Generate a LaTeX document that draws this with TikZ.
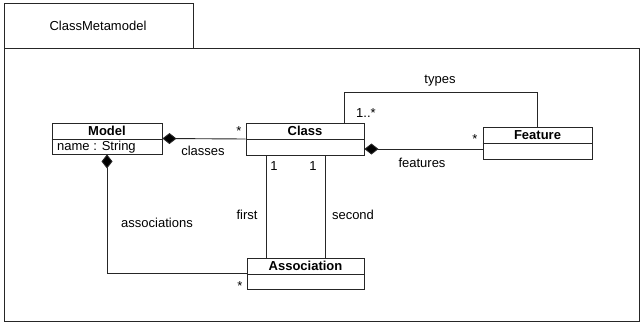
\documentclass[tikz,border=0pt]{standalone}
\usepackage{fontspec}
\setmainfont{Liberation Sans}
\usetikzlibrary{arrows.meta}
\begin{document}
\begin{tikzpicture}[x=1pt,y=-1pt,
  every node/.style={font=\fontsize{13}{15}\selectfont, inner sep=0pt},
  ln/.style={draw=black!85, line width=0.9pt},
  umlbox/.style={ln, rectangle, fill=white},
  comp/.style={ln, {Diamond[length=14pt,width=11pt,fill=black]}-},
  lbl/.style={text=black}
]
\useasboundingbox (0,0) rectangle (643,327);
% frame
\node[umlbox, anchor=north west, minimum width=189pt, minimum height=45pt] (tab) at (4,3) {};
\node (title) at (98,26) {ClassMetamodel};
\node[umlbox, anchor=north west, minimum width=635pt, minimum height=273pt] (frame) at (4,48) {};

% classes
\node[umlbox, minimum width=110pt, minimum height=31pt] (model) at (107,138.5) {};
\draw[ln] (model.west |- 0,139) -- (model.east |- 0,139);
\node[font=\fontsize{13}{15}\selectfont\bfseries] (modelname) at (107,131) {Model};
\node[anchor=west] (modelattr) at (57,147) {name : String};

\node[umlbox, minimum width=118pt, minimum height=32pt] (class) at (305,139) {};
\draw[ln] (class.west |- 0,139) -- (class.east |- 0,139);
\node[font=\fontsize{13}{15}\selectfont\bfseries] (classname) at (305,131) {Class};

\node[umlbox, minimum width=109pt, minimum height=32pt] (feature) at (537.5,143) {};
\draw[ln] (feature.west |- 0,143) -- (feature.east |- 0,143);
\node[font=\fontsize{13}{15}\selectfont\bfseries] (featurename) at (537.5,135) {Feature};

\node[umlbox, minimum width=117pt, minimum height=31pt] (assoc) at (305.5,273.5) {};
\draw[ln] (assoc.west |- 0,274) -- (assoc.east |- 0,274);
\node[font=\fontsize{13}{15}\selectfont\bfseries] (assocname) at (305.5,266) {Association};

% connectors
\coordinate (fy) at (0,149);
\coordinate (ty) at (0,92);
\draw[comp] (model.east) -- (class.west);
\draw[comp] (class.east |- fy) -- (feature.west |- fy);
\draw[ln] ([xshift=39pt]class.north) |- (ty -| feature.north) -- (feature.north);
\draw[ln] ([xshift=-39pt]class.south) -- ([xshift=-39pt]class.south |- assoc.north);
\draw[ln] ([xshift=20pt]class.south) -- ([xshift=20pt]class.south |- assoc.north);
\draw[comp] (model.south) |- (assoc.west);

% labels
\node (s1) at (239,131) {*};
\node (l1) at (203,151) {classes};
\node (s2) at (475,139) {*};
\node (l2) at (422,163) {features};
\node (l3) at (440,81) {types};
\node (m3) at (366,113) {1..*};
\node (m4) at (274,166) {1};
\node (m5) at (313,166) {1};
\node (l4) at (247,215) {first};
\node (l5) at (353,215) {second};
\node (l6) at (157,223) {associations};
\node (s6) at (240,286) {*};
\end{tikzpicture}
\end{document}
